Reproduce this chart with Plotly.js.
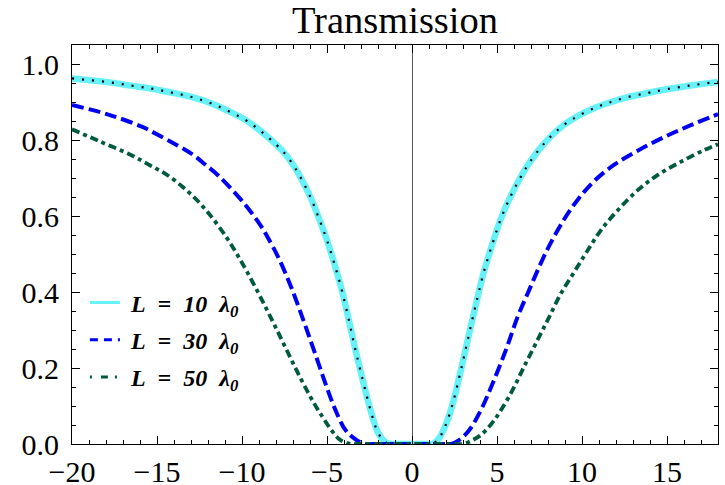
<!DOCTYPE html>
<html>
<head>
<meta charset="utf-8">
<script src="https://cdn.plot.ly/plotly-3.0.1.min.js"></script>
<style>html,body{margin:0;padding:0;background:#fff;}#plot{width:725px;height:485px;}</style>
</head>
<body>
<div id="plot"></div>
<script>
// L = 10 lambda0
const x10 = [-20, -18, -16.5, -15.3, -14.16, -13.04, -11.9, -10.84, -9.77, -8.86, -7.97, -7.4, -6.9, -6.5, -6.0, -5.5, -5.0, -4.5, -4.1, -3.7, -3.4, -3.05, -2.65, -2.33, -2.0, -1.6, -1.3, -1.0, 0, 0.9, 1.2, 1.6, 2.0, 2.38, 2.77, 3.06, 3.46, 3.85, 4.24, 4.74, 5.23, 5.8, 6.4, 6.9, 7.8, 8.8, 9.8, 10.84, 11.71, 12.7, 13.79, 14.66, 16.3, 18];
const y10 = [0.962, 0.953, 0.943, 0.935, 0.925, 0.914, 0.898, 0.877, 0.852, 0.822, 0.787, 0.760, 0.728, 0.697, 0.652, 0.597, 0.536, 0.464, 0.400, 0.323, 0.262, 0.196, 0.124, 0.072, 0.030, 0.006, 0, 0, 0, 0, 0, 0.016, 0.052, 0.104, 0.174, 0.230, 0.310, 0.385, 0.455, 0.528, 0.593, 0.652, 0.703, 0.740, 0.792, 0.835, 0.864, 0.886, 0.900, 0.913, 0.923, 0.931, 0.943, 0.953];
// L = 30 lambda0
const x30 = [-20, -17.86, -15.89, -15.3, -13.93, -12.94, -12.15, -11.36, -10.1, -9.5, -8.92, -8.5, -7.8, -7.1, -6.36, -5.77, -5.09, -4.5, -3.9, -3.25, -2.7, -2.3, 0, 1.9, 2.3, 2.77, 3.36, 4.05, 4.74, 5.52, 6.21, 6.89, 7.58, 8.17, 8.96, 9.75, 10.72, 11.9, 13.28, 14.8, 16.4, 18];
const y30 = [0.892, 0.867, 0.835, 0.822, 0.789, 0.763, 0.735, 0.705, 0.645, 0.612, 0.576, 0.545, 0.485, 0.412, 0.322, 0.247, 0.159, 0.089, 0.036, 0.010, 0, 0, 0, 0, 0, 0.010, 0.036, 0.089, 0.159, 0.247, 0.334, 0.405, 0.476, 0.530, 0.592, 0.643, 0.692, 0.735, 0.772, 0.807, 0.839, 0.868];
// L = 50 lambda0
const x50 = [-20, -18.3, -16.5, -15.4, -14.5, -13.5, -12.7, -11.85, -10.9, -10.3, -9.7, -9.0, -8.5, -8.0, -7.5, -7.0, -6.5, -6.0, -5.6, -5.2, -4.7, -4.2, -3.6, -3.2, 0, 2.6, 3.0, 3.56, 4.0, 4.34, 4.8, 5.23, 5.7, 6.11, 6.5, 6.89, 7.5, 8.07, 8.76, 9.55, 10.34, 11.12, 12.1, 13.28, 14.46, 15.83, 17.21, 18];
const y50 = [0.828, 0.795, 0.760, 0.733, 0.711, 0.677, 0.644, 0.601, 0.543, 0.500, 0.453, 0.394, 0.350, 0.305, 0.259, 0.213, 0.168, 0.126, 0.095, 0.067, 0.034, 0.010, 0, 0, 0, 0, 0, 0.010, 0.022, 0.036, 0.060, 0.089, 0.124, 0.159, 0.195, 0.230, 0.284, 0.334, 0.396, 0.453, 0.510, 0.563, 0.615, 0.668, 0.708, 0.743, 0.774, 0.789];

const names = ['\u2005<i>L</i>\u2002=\u200210\u2002<i>λ</i><sub>0</sub>', '\u2005<i>L</i>\u2002=\u200230\u2002<i>λ</i><sub>0</sub>', '\u2005<i>L</i>\u2002=\u200250\u2002<i>λ</i><sub>0</sub>'];
const titleText = 'Transmission';

const serif = 'Liberation Serif, Times New Roman, serif';
const cCyan = '#66f2f8', cBlue = '#0000f5', cGreen = '#005a40';

const traces = [
  {x: x10, y: y10, type: 'scatter', mode: 'lines', showlegend: false, hoverinfo: 'skip',
   line: {color: cCyan, width: 6.5, shape: 'spline', smoothing: 1}},
  {x: x10, y: y10, type: 'scatter', mode: 'lines', showlegend: false, hoverinfo: 'skip',
   line: {color: '#000000', width: 2.2, dash: '2px,8px', shape: 'spline', smoothing: 1}},
  {x: x30, y: y30, type: 'scatter', mode: 'lines', showlegend: false, hoverinfo: 'skip',
   line: {color: cBlue, width: 4, dash: '12px,5px', shape: 'spline', smoothing: 1}},
  {x: x50, y: y50, type: 'scatter', mode: 'lines', showlegend: false, hoverinfo: 'skip',
   line: {color: cGreen, width: 3.8, dash: '8px,4px,4px,4px', shape: 'spline', smoothing: 1}},
  // legend entries (thin sample lines as in the reference)
  {x: [null], y: [null], type: 'scatter', mode: 'lines', name: names[0], legendgroup: 'a',
   line: {color: cCyan, width: 3}},
  {x: [null], y: [null], type: 'scatter', mode: 'lines', name: names[1], legendgroup: 'b',
   line: {color: cBlue, width: 3, dash: '8px,6px'}},
  {x: [null], y: [null], type: 'scatter', mode: 'lines', name: names[2], legendgroup: 'c',
   line: {color: cGreen, width: 3, dash: '2px,9px,7px,7px'}}
];

const axisCommon = {
  showgrid: false, showline: true, linecolor: '#000', linewidth: 1, mirror: 'ticks',
  ticks: 'inside', ticklen: 8, tickwidth: 1, tickcolor: '#000',
  tickfont: {family: serif, size: 30, color: '#000'}
};

const layout = {
  width: 725, height: 485,
  margin: {l: 72, r: 7, t: 45, b: 41},
  paper_bgcolor: '#fff', plot_bgcolor: '#fff',
  title: {text: titleText, font: {family: serif, size: 38.5, color: '#000'},
          x: 0.5, xref: 'paper', xanchor: 'center', y: 1 - 6 / 485, yref: 'container', yanchor: 'top'},
  xaxis: Object.assign({}, axisCommon, {
    range: [-20, 18], tick0: 0, dtick: 5, zeroline: true, zerolinecolor: '#555', zerolinewidth: 1,
    ticklabelstandoff: 1,
    minor: {dtick: 1, ticklen: 4, ticks: 'inside', tickcolor: '#000', tickwidth: 1, showgrid: false}
  }),
  yaxis: Object.assign({}, axisCommon, {
    range: [0, 1.05], tick0: 0, dtick: 0.2, tickformat: '.1f', zeroline: false,
    ticklabelstandoff: 6,
    minor: {dtick: 0.05, ticklen: 4, ticks: 'inside', tickcolor: '#000', tickwidth: 1, showgrid: false}
  }),
  showlegend: true,
  legend: {x: 0.02, y: 0.41, xanchor: 'left', yanchor: 'top', bgcolor: 'rgba(0,0,0,0)',
           font: {family: serif, size: 24, color: '#000', style: 'italic', weight: 'bold'},
           tracegroupgap: 3, itemwidth: 30}
};

Plotly.newPlot('plot', traces, layout, {displayModeBar: false, staticPlot: true});
</script>
</body>
</html>
